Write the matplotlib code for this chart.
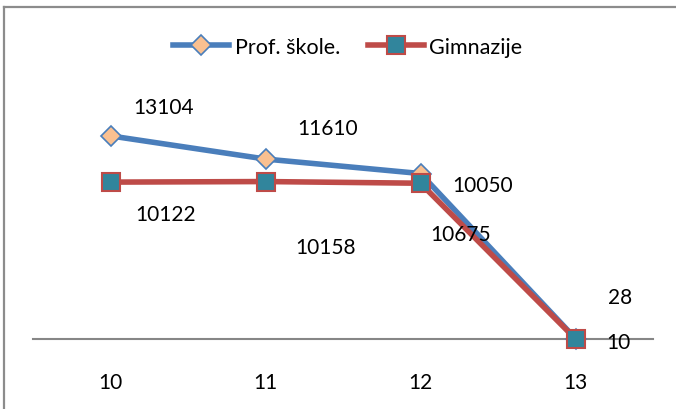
import matplotlib
matplotlib.use("Agg")
import matplotlib.pyplot as plt
from matplotlib.lines import Line2D

categories = ["10", "11", "12", "13"]
prof_skole = [13104, 11610, 10675, 28]
gimnazije = [10122, 10158, 10050, 10]
series_names = ["Prof. škole.", "Gimnazije"]

plt.rcParams['font.family'] = ['Lato', 'DejaVu Sans']

fig = plt.figure(figsize=(6.76, 4.10), dpi=100)
ax = fig.add_axes([33/676, 70/410, 620/676, 248/410])

x = list(range(len(categories)))
blue = "#4A7EBB"
red = "#BE4B48"

ax.plot(x, prof_skole, color=blue, lw=4.0, marker="D", markersize=10.5,
        markerfacecolor="#FAC090", markeredgecolor=blue, markeredgewidth=1.2,
        label=series_names[0], zorder=3, clip_on=False)
ax.plot(x, gimnazije, color=red, lw=4.0, marker="s", markersize=12.5,
        markerfacecolor="#31859C", markeredgecolor=red, markeredgewidth=1.5,
        label=series_names[1], zorder=4, clip_on=False)

fs = 15
prof_off = [(53, 29), (62, 31), (40, -60), (45, 42)]
gim_off = [(55, -32), (60, -65), (62, -2), (43, -3)]
for i in x:
    ax.annotate(str(prof_skole[i]), (i, prof_skole[i]), xytext=prof_off[i],
                textcoords="offset pixels", ha="center", va="center", fontsize=fs, zorder=6)
    ax.annotate(str(gimnazije[i]), (i, gimnazije[i]), xytext=gim_off[i],
                textcoords="offset pixels", ha="center", va="center", fontsize=fs, zorder=6)

ax.set_xlim(-0.5, 3.5)
ax.set_ylim(0, 16000)
ax.set_xticks(x)
ax.set_xticklabels(categories, fontsize=fs)
ax.tick_params(axis="x", length=0, pad=24)
ax.set_yticks([])
for s in ["top", "right", "left"]:
    ax.spines[s].set_visible(False)
ax.spines["bottom"].set_color("#868686")
ax.spines["bottom"].set_linewidth(1.5)
ax.patch.set_visible(False)

leg = fig.legend(handles=ax.get_lines(), labels=series_names, loc="center",
                 bbox_to_anchor=(348/676, 1 - 48/410), ncol=2, frameon=False,
                 fontsize=15.5, handlelength=2.6, columnspacing=1.3, handletextpad=0.25)

# outer border lines (top and left)
fig.add_artist(Line2D([4/676, 1], [1 - 8/410, 1 - 8/410], color="#8C8C8C", lw=1.6,
                      transform=fig.transFigure))
fig.add_artist(Line2D([4/676, 4/676], [0, 1 - 8/410], color="#8C8C8C", lw=1.6,
                      transform=fig.transFigure))

fig.savefig("out.png", dpi=100)
